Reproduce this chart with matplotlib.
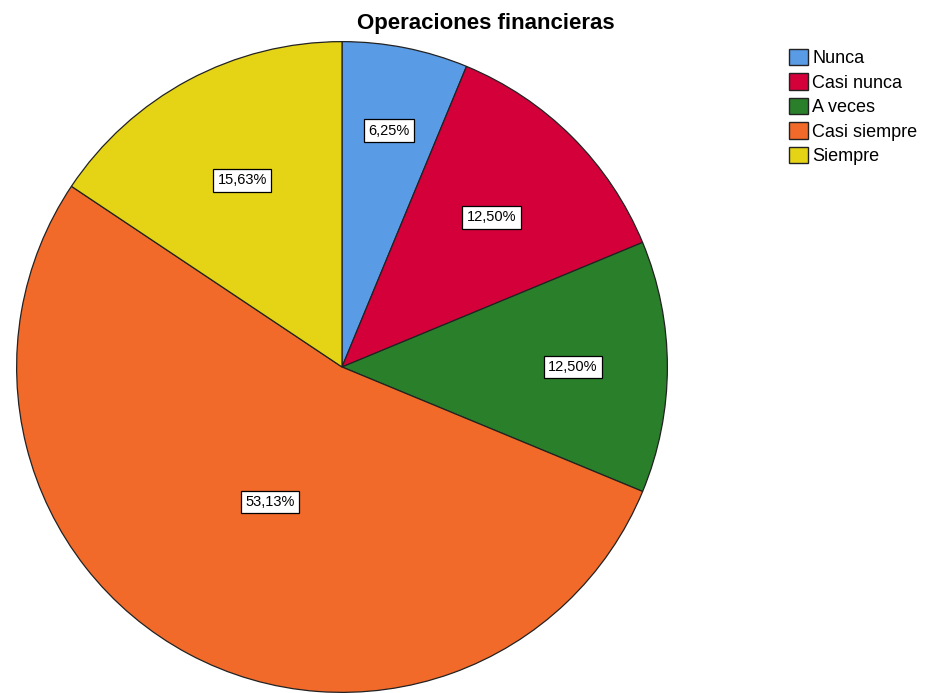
import numpy as np
import matplotlib
matplotlib.use("Agg")
from matplotlib import pyplot as plt

# datos (frecuencias sobre 32 casos)
categorias = ["Nunca", "Casi nunca", "A veces", "Casi siempre", "Siempre"]
porcentajes = [6.25, 12.50, 12.50, 53.13, 15.63]
etiquetas = ["6,25%", "12,50%", "12,50%", "53,13%", "15,63%"]
colores = ["#5a9be6", "#d4003a", "#2a7f2a", "#f26a2a", "#e5d316"]
# distancia radial de cada etiqueta (fraccion del radio)
dist_etiq = [0.74, 0.65, 0.71, 0.47, 0.65]

plt.rcParams['font.family'] = ['Liberation Sans', 'DejaVu Sans']

fig = plt.figure(figsize=(9.25, 6.93), dpi=100)
ax = fig.add_axes([15/925, -1/693, 654/925, 654/693])

wedges, _ = ax.pie(porcentajes, colors=colores, startangle=90, counterclock=False,
                   radius=1, wedgeprops=dict(edgecolor="#222222", linewidth=0.9))
ax.set_xlim(-1.005, 1.005)
ax.set_ylim(-1.005, 1.005)
ax.set_aspect("equal")

for w, txt, d in zip(wedges, etiquetas, dist_etiq):
    ang = np.deg2rad((w.theta1 + w.theta2) / 2)
    ax.text(d*np.cos(ang), d*np.sin(ang), txt, ha="center", va="center", fontsize=10.5,
            bbox=dict(boxstyle="square,pad=0.3", facecolor="white", edgecolor="black", linewidth=0.9))

fig.text(486/925, 1 - 24/693, "Operaciones financieras", ha="center", va="center",
         fontsize=16, fontweight="bold")

leg = fig.legend(wedges, categorias, loc="upper left", bbox_to_anchor=(776/925, 1 - 36/693),
                 frameon=False, fontsize=13, handlelength=1.05, handleheight=1.05,
                 handletextpad=0.25, labelspacing=0.33, borderpad=0.2)
for h in leg.legend_handles:
    h.set_edgecolor("#222222")
    h.set_linewidth(1.0)

plt.savefig("out.png", dpi=100)
